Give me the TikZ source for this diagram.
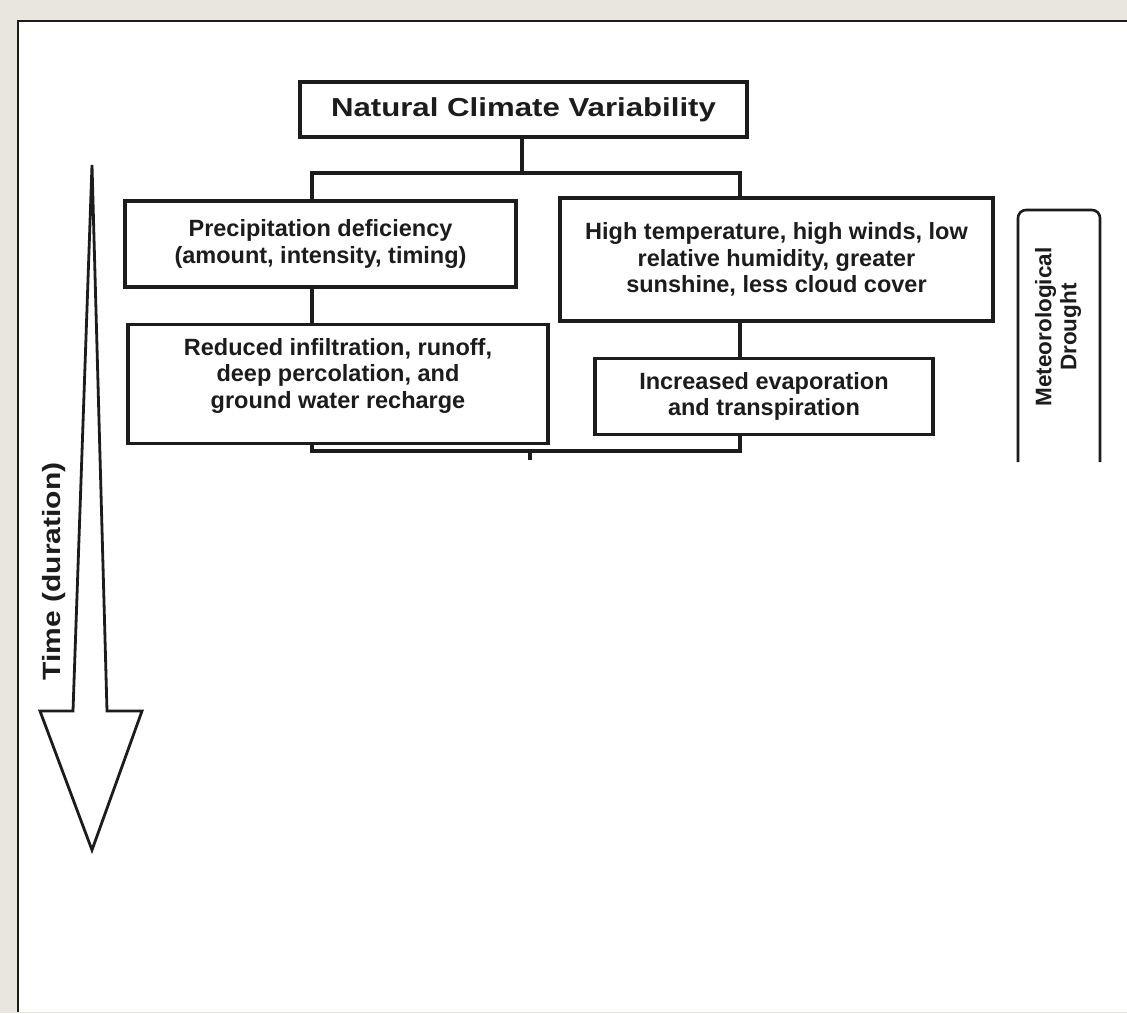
\documentclass[tikz,border=0pt]{standalone}
\usepackage{fontspec}
\setmainfont{Liberation Sans}
\newfontfamily\widefont[FakeStretch=1.2]{Liberation Sans}
\usepackage{xcolor}
\usetikzlibrary{positioning}

\definecolor{frame}{HTML}{E8E6DE}
\definecolor{ink}{HTML}{1C1C1C}

\begin{document}
\begin{tikzpicture}[x=1pt, y=-1pt, line join=miter,
    every node/.style={font=\bfseries\fontsize{23.5}{26.5}\selectfont, text=ink},
    box/.style={draw=ink, line width=3.2pt, inner sep=0pt, align=center},
    link/.style={draw=ink, line width=3.2pt}]
        % Page and panel
        \useasboundingbox (0,0) rectangle (1127,1013);
        \fill[frame] (0,0) rectangle (1127,1013);
        \fill[white] (18,21) rectangle (1127,1012);
        \draw[ink, line width=2pt] (18,1012) -- (18,21) -- (1127,21);
        % Top box
        \node[box, minimum width=447pt, minimum height=55pt, font=\widefont\bfseries\fontsize{26}{28}\selectfont] (ncv) at (523.5,109.5) {Natural Climate Variability};
        % Left branch
        \node[box, minimum width=391pt, minimum height=86pt] (precip) at (320.5,244) {Precipitation deficiency\\(amount, intensity, timing)};
        \node[box, minimum width=420pt, minimum height=119pt, below right=34pt and 3pt of precip.south west, anchor=north west,
              label={[yshift=8pt, align=center]center:{Reduced infiltration, runoff,\\deep percolation, and\\ground water recharge}}] (reduced) {};
        % Right branch
        \node[box, minimum width=433pt, minimum height=123pt] (heat) at (776.5,259.5) {High temperature, high winds, low\\relative humidity, greater\\sunshine, less cloud cover};
        \node[box, minimum width=338pt, minimum height=76pt, below left=34pt and 60pt of heat.south east, anchor=north east] (evap) {Increased evaporation\\and transpiration};
        % Connectors
        \coordinate (ltop) at (312,173);
        \coordinate (rtop) at (740,173);
        \coordinate (lbot) at (312,451);
        \coordinate (rbot) at (740,451);
        \coordinate (mbot) at (530,460);
        \draw[link] (ncv.south -| 522,0) -- (ltop -| 522,0);
        \draw[link] (ltop |- precip.north) -- (ltop) -- (rtop) -- (rtop |- heat.north);
        \draw[link] (ltop |- precip.south) -- (ltop |- reduced.north);
        \draw[link] (rtop |- heat.south) -- (rtop |- evap.north);
        \draw[link] (lbot |- reduced.south) -- (lbot) -- (rbot) -- (rbot |- evap.south);
        \draw[link] (mbot |- lbot) -- (mbot);
        % Meteorological drought bracket
        \draw[link, line width=2.6pt, rounded corners=8pt] (1018,462) -- (1018,210) -- (1100,210) -- (1100,462);
        \node[rotate=90, align=center, font=\bfseries\fontsize{22.5}{25}\selectfont] (meteo) at (1058,327) {Meteorological\\Drought};
        % Time arrow
        \draw[ink, line width=2.8pt, fill=white] (92,165) -- (107,711) -- (142,711) -- (92,850) -- (40,711) -- (73,711) -- cycle;
        \node[rotate=90, anchor=base, inner sep=0pt, font=\widefont\bfseries\fontsize{25}{28}\selectfont] (time) at (60,571.5) {Time (duration)};
    \end{tikzpicture}
\end{document}
